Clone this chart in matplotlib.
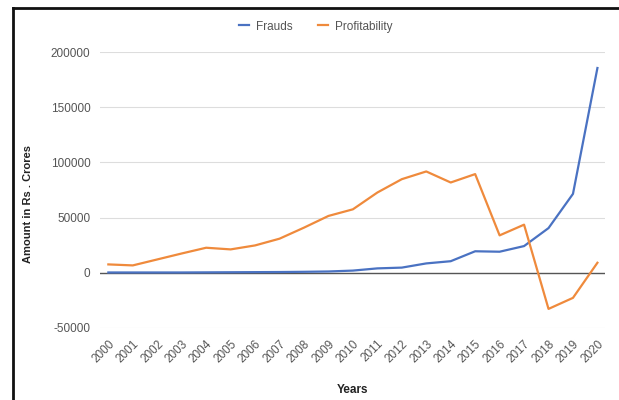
import matplotlib.pyplot as plt
from matplotlib.lines import Line2D

plt.rcParams['font.family'] = ['Liberation Sans', 'DejaVu Sans']
plt.rcParams['axes.unicode_minus'] = False

years = list(range(2000, 2021))
frauds = [300, 300, 300, 300, 400, 500, 600, 700, 900, 1200, 2000, 4000, 4700,
          8500, 10500, 19500, 19100, 24200, 40500, 71500, 185500]
profitability = [7600, 6700, 12100, 17500, 22700, 21200, 24800, 30900, 40900, 51500,
                 57500, 72700, 84800, 91800, 81800, 89400, 33900, 43600, -32700, -22700, 9100]

blue = '#4a72c2'
orange = '#ef8a3c'

fig = plt.figure(figsize=(6.19, 4.0), dpi=100)
ax = fig.add_axes([0.162, 0.18, 0.815, 0.69])

ax.plot(years, frauds, color=blue, lw=1.6, label='Frauds')
ax.plot(years, profitability, color=orange, lw=1.6, label='Profitability')
ax.axhline(0, color='#555555', lw=1.0, zorder=1)

ax.set_xlim(1999.67, 2020.3)
ax.set_ylim(-50000, 200000)
ax.set_yticks([-50000, 0, 50000, 100000, 150000, 200000])
ax.set_xticks(years)
ax.set_xticklabels([str(y) for y in years], rotation=45, ha='right', rotation_mode='anchor')
ax.tick_params(axis='both', length=0, labelsize=8.5, colors='#555555', pad=7)
ax.grid(axis='y', color='#dddddd', lw=0.8)
ax.set_axisbelow(True)
for s in ax.spines.values():
    s.set_visible(False)

ax.set_xlabel('Years', fontsize=8.5, fontweight='bold', color='#222222', labelpad=14)
ax.set_ylabel('Amount in Rs . Crores', fontsize=8, fontweight='bold', color='#222222')
ax.yaxis.set_label_coords(-0.133, 0.45)

ax.legend(loc='center', bbox_to_anchor=(0.427, 1.092), ncol=2, frameon=False,
          fontsize=8.5, handlelength=0.8, handletextpad=0.6, columnspacing=2.2,
          labelcolor='#555555')

# screenshot frame
fig.add_artist(Line2D([13 / 619, 13 / 619], [0, 1 - 8 / 400], color='#111111', lw=2))
fig.add_artist(Line2D([13 / 619, 1], [1 - 8 / 400, 1 - 8 / 400], color='#111111', lw=2))

fig.savefig('out.png', dpi=100)
